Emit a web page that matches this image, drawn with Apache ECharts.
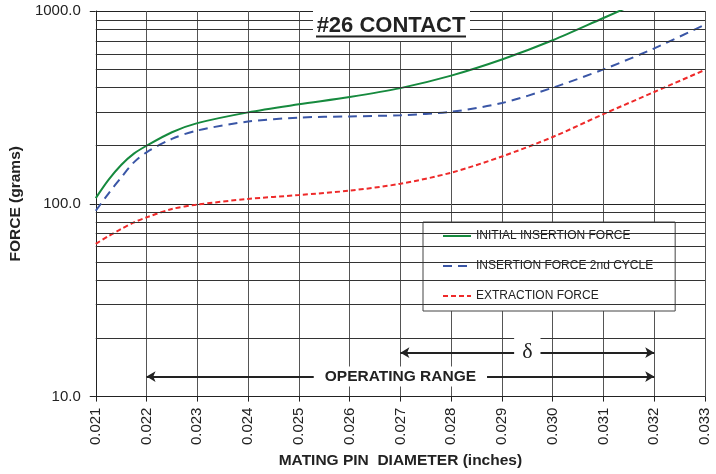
<!DOCTYPE html>
<html>
<head>
    <meta http-equiv="Content-Type" content="text/html; charset=utf-8"/>
    <style type="text/css">
        body, html {
            width: 100%;
            height: 100%;
            margin: 0;
            background: #fff;
        }
        #chart {
            width: 716px;
            height: 474px;
        }
    </style>
    <script src="https://cdn.jsdelivr.net/npm/echarts@6/dist/echarts.min.js"></script>
    <title>#26 CONTACT</title>
</head>
<body>
<div id="chart"></div>
<script type="text/javascript">
    // pin diameter (inches)
    var diameter = [0.021, 0.02125, 0.0215, 0.02175, 0.022, 0.0225, 0.023, 0.024, 0.025, 0.026, 0.027, 0.028, 0.029, 0.030, 0.031, 0.032, 0.033];
    // force (grams)
    var initialForce = [107, 133, 159, 182, 200, 235, 262, 298, 328, 358, 398, 462, 560, 705, 920, 1200, 1550];
    var secondCycle = [92, 113, 137, 164, 185, 217, 240, 267, 280, 284, 288, 300, 333, 400, 498, 640, 850];
    var extraction = [62, 68, 74, 80, 85, 94, 99, 106, 111, 117, 127, 145, 176, 222, 292, 380, 495];

    var seriesNames = ['INITIAL INSERTION FORCE', 'INSERTION FORCE 2nd CYCLE', 'EXTRACTION FORCE'];
    // log minor grid values
    var minorGrid = [20, 30, 40, 50, 60, 70, 80, 90, 200, 300, 400, 500, 600, 700, 800, 900];
    // annotation arrows: [from, to, force level, text]
    var operatingRange = [0.022, 0.032, 12.7, 'OPERATING RANGE'];
    var deltaRange = [0.027, 0.032, 16.9, 'δ'];

    function pairs(ys) {
        var out = [];
        for (var i = 0; i < diameter.length; i++) {
            out.push([diameter[i], ys[i]]);
        }
        return out;
    }

    function arrow(r) {
        return [{coord: [r[0], r[2]]}, {coord: [r[1], r[2]]}];
    }

    var myChart = echarts.init(document.getElementById('chart'));

    var option = {
        animation: false,
        grid: {left: 86, right: 11, top: 11, bottom: 76},
        legend: {
            data: seriesNames,
            orient: 'vertical',
            left: 423,
            top: 222,
            itemWidth: 28,
            itemHeight: 14,
            itemGap: 18,
            padding: [8, 22, 9, 19],
            backgroundColor: '#fff',
            borderColor: '#444',
            borderWidth: 1,
            selectedMode: false,
            itemStyle: {opacity: 0},
            textStyle: {fontFamily: 'Liberation Sans', fontSize: 12, color: '#222'}
        },
        xAxis: {
            type: 'value',
            min: 0.021,
            max: 0.033,
            interval: 0.001,
            name: 'MATING PIN  DIAMETER (inches)',
            nameLocation: 'middle',
            nameGap: 56,
            nameTextStyle: {fontFamily: 'Liberation Sans', fontWeight: 'bold', fontSize: 15.5, color: '#222'},
            axisLine: {lineStyle: {color: '#222', width: 1}},
            axisTick: {show: true, length: 5, lineStyle: {color: '#222'}},
            axisLabel: {
                rotate: 90,
                margin: 11,
                fontFamily: 'Liberation Sans',
                fontSize: 15,
                color: '#222',
                formatter: function (v) {
                    return v.toFixed(3);
                }
            },
            splitLine: {show: true, lineStyle: {color: '#555', width: 1}}
        },
        yAxis: {
            type: 'log',
            logBase: 10,
            min: 10,
            max: 1000,
            name: 'FORCE (grams)',
            nameLocation: 'middle',
            nameGap: 60,
            nameTextStyle: {fontFamily: 'Liberation Sans', fontWeight: 'bold', fontSize: 15.5, color: '#222'},
            axisLine: {show: true, lineStyle: {color: '#222', width: 1}},
            axisTick: {show: true, length: 6, lineStyle: {color: '#222'}},
            axisLabel: {
                margin: 15,
                fontFamily: 'Liberation Sans',
                fontSize: 15,
                color: '#222',
                formatter: function (v) {
                    return Number(v).toFixed(1);
                }
            },
            splitLine: {show: true, lineStyle: {color: '#222', width: 1}}
        },
        graphic: [
            {type: 'rect', shape: {x: 313, y: 3, width: 157, height: 38}, style: {fill: '#fff'}, z: 10},
            {
                type: 'text', x: 391, y: 26, z: 11,
                style: {
                    text: '#26 CONTACT', fontFamily: 'Liberation Sans', fontWeight: 'bold', fontSize: 22,
                    fill: '#222', align: 'center', verticalAlign: 'middle'
                }
            },
            {type: 'line', shape: {x1: 316, y1: 36.5, x2: 466, y2: 36.5}, style: {stroke: '#222', lineWidth: 2}, z: 11}
        ],
        series: [
            {
                name: 'minor',
                type: 'line',
                data: [],
                silent: true,
                markLine: {
                    silent: true,
                    symbol: 'none',
                    label: {show: false},
                    emphasis: {disabled: true},
                    lineStyle: {color: '#333', width: 1, type: 'solid'},
                    data: minorGrid.map(function (v) {
                        return {yAxis: v};
                    })
                }
            },
            {
                name: seriesNames[0],
                type: 'line',
                smooth: 0.3,
                symbol: 'none',
                color: '#168a3e',
                lineStyle: {color: '#168a3e', width: 2},
                data: pairs(initialForce)
            },
            {
                name: seriesNames[1],
                type: 'line',
                smooth: 0.3,
                symbol: 'none',
                color: '#3a56a6',
                lineStyle: {color: '#3a56a6', width: 2, type: [9, 6]},
                data: pairs(secondCycle)
            },
            {
                name: seriesNames[2],
                type: 'line',
                smooth: 0.3,
                symbol: 'none',
                color: '#ee2a2a',
                lineStyle: {color: '#ee2a2a', width: 2, type: [5, 3]},
                data: pairs(extraction)
            },
            {
                name: 'arrows',
                type: 'line',
                data: [],
                silent: true,
                z: 5,
                markLine: {
                    silent: true,
                    symbol: ['arrow', 'arrow'],
                    symbolSize: [8, 9],
                    label: {show: false},
                    emphasis: {disabled: true},
                    lineStyle: {color: '#222', width: 2, type: 'solid'},
                    data: [arrow(operatingRange), arrow(deltaRange)]
                }
            },
            {
                name: 'arrowText',
                type: 'line',
                data: [],
                silent: true,
                z: 6,
                markPoint: {
                    silent: true,
                    symbol: 'circle',
                    symbolSize: 0,
                    emphasis: {disabled: true},
                    data: [
                        {
                            coord: [(operatingRange[0] + operatingRange[1]) / 2, operatingRange[2]],
                            label: {
                                show: true, position: 'inside', formatter: operatingRange[3],
                                fontFamily: 'Liberation Sans', fontWeight: 'bold', fontSize: 15.5, color: '#222',
                                backgroundColor: '#fff', padding: [2, 11]
                            }
                        },
                        {
                            coord: [(deltaRange[0] + deltaRange[1]) / 2, deltaRange[2]],
                            label: {
                                show: true, position: 'inside', formatter: deltaRange[3],
                                fontFamily: 'Liberation Serif', fontSize: 22, color: '#222',
                                backgroundColor: '#fff', padding: [5, 8]
                            }
                        }
                    ]
                }
            }
        ]
    };
    myChart.setOption(option);
</script>
</body>
</html>
